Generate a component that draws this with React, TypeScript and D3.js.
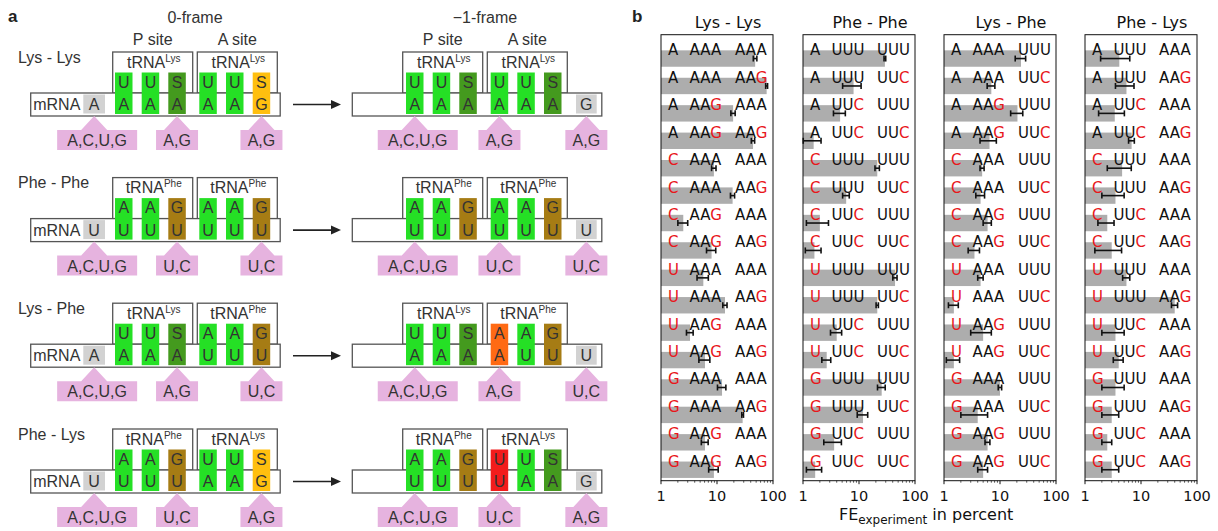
import React from 'react';
import * as d3 from 'd3';

// ---------------- Panel b data ----------------
const panelTitles = ['Lys - Lys', 'Phe - Phe', 'Lys - Phe', 'Phe - Lys'];
const firstNt = ['A', 'A', 'A', 'A', 'C', 'C', 'C', 'C', 'U', 'U', 'U', 'U', 'G', 'G', 'G', 'G'];
const refCodons = [['AAA', 'AAA'], ['UUU', 'UUU'], ['AAA', 'UUU'], ['UUU', 'AAA']];
const lysLysCodons = [
  ['AAA', 'AAA'], ['AAA', 'AAG'], ['AAG', 'AAA'], ['AAG', 'AAG'],
  ['AAA', 'AAA'], ['AAA', 'AAG'], ['AAG', 'AAA'], ['AAG', 'AAG'],
  ['AAA', 'AAA'], ['AAA', 'AAG'], ['AAG', 'AAA'], ['AAG', 'AAG'],
  ['AAA', 'AAA'], ['AAA', 'AAG'], ['AAG', 'AAA'], ['AAG', 'AAG'],
];
const phePheCodons = [
  ['UUU', 'UUU'], ['UUU', 'UUC'], ['UUC', 'UUU'], ['UUC', 'UUC'],
  ['UUU', 'UUU'], ['UUU', 'UUC'], ['UUC', 'UUU'], ['UUC', 'UUC'],
  ['UUU', 'UUU'], ['UUU', 'UUC'], ['UUC', 'UUU'], ['UUC', 'UUC'],
  ['UUU', 'UUU'], ['UUU', 'UUC'], ['UUC', 'UUU'], ['UUC', 'UUC'],
];
const lysPheCodons = [
  ['AAA', 'UUU'], ['AAA', 'UUC'], ['AAG', 'UUU'], ['AAG', 'UUC'],
  ['AAA', 'UUU'], ['AAA', 'UUC'], ['AAG', 'UUU'], ['AAG', 'UUC'],
  ['AAA', 'UUU'], ['AAA', 'UUC'], ['AAG', 'UUU'], ['AAG', 'UUC'],
  ['AAA', 'UUU'], ['AAA', 'UUC'], ['AAG', 'UUU'], ['AAG', 'UUC'],
];
const pheLysCodons = [
  ['UUU', 'AAA'], ['UUU', 'AAG'], ['UUC', 'AAA'], ['UUC', 'AAG'],
  ['UUU', 'AAA'], ['UUU', 'AAG'], ['UUC', 'AAA'], ['UUC', 'AAG'],
  ['UUU', 'AAA'], ['UUU', 'AAG'], ['UUC', 'AAA'], ['UUC', 'AAG'],
  ['UUU', 'AAA'], ['UUU', 'AAG'], ['UUC', 'AAA'], ['UUC', 'AAG'],
];
const lysLysFE = [48, 77, 19.4, 44, 8.8, 19, 2.5, 8, 5.7, 13.9, 3.3, 6.1, 12.3, 28.7, 6.1, 8.8];
const lysLysErr = [3.5, 3, 1.7, 3, 0.8, 1.6, 0.5, 1.5, 1.3, 1.2, 0.45, 1.35, 2.1, 1, 0.85, 1.7];
const phePheFE = [29, 8, 4.6, 1.55, 21.2, 5.9, 2.0, 1.6, 44, 21.2, 4.0, 2.65, 25.4, 11.8, 3.6, 1.65];
const phePheErr = [1, 2.9, 1.1, 0.55, 1.9, 0.8, 0.85, 0.5, 3.8, 1, 0.9, 0.48, 4, 2.5, 1.25, 0.5];
const lysPheFE = [23.7, 7, 20.5, 6.5, 4.8, 4.5, 6, 3.5, 4.5, 1.5, 5, 1.5, 10, 4, 6, 5];
const lysPheErr = [5, 1.1, 5, 2.1, 0.4, 0.8, 1, 0.8, 0.5, 0.3, 2, 0.4, 0.7, 2, 0.6, 1];
const pheLysFE = [4.1, 5.5, 3.4, 6.8, 4.6, 3.5, 2.5, 3, 5.5, 40, 3.5, 4, 3.5, 3, 2.5, 3];
const pheLysErr = [2.2, 2, 1.65, 0.8, 2.1, 1.5, 0.8, 1.5, 0.8, 5, 1.5, 0.8, 1.5, 1, 0.5, 1];
const xTicks = [1, 10, 100];

const panelCodons = [lysLysCodons, phePheCodons, lysPheCodons, pheLysCodons];
const panelFE = [lysLysFE, phePheFE, lysPheFE, pheLysFE];
const panelErr = [lysLysErr, phePheErr, lysPheErr, pheLysErr];

// ---------------- Panel a data ----------------
const pairNames = ['Lys - Lys', 'Phe - Phe', 'Lys - Phe', 'Phe - Lys'];
const pTRNA = ['Lys', 'Phe', 'Lys', 'Phe'];
const aTRNA = ['Lys', 'Phe', 'Phe', 'Lys'];
const anticodons = [['UUS', 'UUS'], ['AAG', 'AAG'], ['UUS', 'AAG'], ['AAG', 'UUS']];
const codons0 = [['AAA', 'AAG'], ['UUU', 'UUU'], ['AAA', 'UUU'], ['UUU', 'AAG']];
const codons1 = [['AAA', 'AAA'], ['UUU', 'UUU'], ['AAA', 'AUU'], ['UUU', 'UAA']];
const pairColors0 = [['ggd', 'ggy'], ['ggb', 'ggb'], ['ggd', 'ggb'], ['ggb', 'ggy']];
const pairColors1 = [['ggd', 'ggd'], ['ggb', 'ggb'], ['ggd', 'ogb'], ['ggb', 'rgd']];
const grayNt0 = ['A', 'U', 'A', 'U'];
const grayNt1 = ['G', 'U', 'U', 'G'];
const callouts = [
  ['A,C,U,G', 'A,G', 'A,G'],
  ['A,C,U,G', 'U,C', 'U,C'],
  ['A,C,U,G', 'A,G', 'U,C'],
  ['A,C,U,G', 'U,C', 'A,G'],
];

const colorMap: Record<string, string> = {
  g: '#25e025', d: '#449a1e', y: '#ffbf0f', b: '#a67c14', o: '#ff6a14', r: '#f21c1c',
};

const FRAMES = [
  { left: 30.7, pBox: 82, aBox: 166.6, pCells: [84.3, 111, 137.6], aCells: [168.6, 195.3, 222], gray: 52.6, grayW: 21.7, callAt: ['gray', 'p2', 'a2'] },
  { left: 352.3, pBox: 50.4, aBox: 135, pCells: [53.7, 80.4, 107], aCells: [138.4, 165, 191.7], gray: 223.7, grayW: 20.7, callAt: ['p0', 'a0', 'gray'] },
];
const ROW_OFF = [0, 125.6, 251.2, 377];
const CW = 17.5;
const FONT_A = "'Liberation Sans', Arial, sans-serif";
const FONT_B = "'DejaVu Sans', sans-serif";
const TXT = '#333';

function Callout({ apex, y0, label }: { apex: number; y0: number; label: string }) {
  const wide = label.length > 4;
  const x0 = wide ? apex - 37 : apex - 21;
  const x1 = wide ? apex + 43 : apex + 21;
  const top = y0 + 130, bot = y0 + 150, ay = y0 + 116;
  const d = `M${x0},${top} L${apex - 13},${top} L${apex},${ay} L${apex + 13},${top} L${x1},${top} L${x1},${bot} L${x0},${bot} Z`;
  return (
    <g>
      <path d={d} fill="#e6b3df" />
      <text x={(x0 + x1) / 2} y={y0 + 146} textAnchor="middle" fontSize={16} fontFamily={FONT_A} fill={TXT}>{label}</text>
    </g>
  );
}

function FrameDiagram({ row, frame }: { row: number; frame: number }) {
  const F = FRAMES[frame];
  const y0 = ROW_OFF[row];
  const L = F.left;
  const cods = frame === 0 ? codons0[row] : codons1[row];
  const cols = frame === 0 ? pairColors0[row] : pairColors1[row];
  const grayNt = frame === 0 ? grayNt0[row] : grayNt1[row];
  const boxes = [
    { x: L + F.pBox, name: pTRNA[row] },
    { x: L + F.aBox, name: aTRNA[row] },
  ];
  const cellSets = [F.pCells, F.aCells];
  const centers: Record<string, number> = {
    gray: L + F.gray + F.grayW / 2,
    p0: L + F.pCells[0] + CW / 2, p2: L + F.pCells[2] + CW / 2,
    a0: L + F.aCells[0] + CW / 2, a2: L + F.aCells[2] + CW / 2,
  };
  return (
    <g>
      {/* tRNA boxes */}
      {boxes.map((b, i) => (
        <g key={'b' + i}>
          <rect x={b.x} y={y0 + 52} width={80} height={41} fill="white" stroke="#555" strokeWidth={1.3} />
          <text x={b.x + 41} y={y0 + 67.5} textAnchor="middle" fontSize={16} fontFamily={FONT_A} fill={TXT}>
            tRNA<tspan fontSize={10} dy={-6}>{b.name}</tspan>
          </text>
          {row === 0 && (
            <text x={b.x + 40} y={y0 + 44.5} textAnchor="middle" fontSize={16} fontFamily={FONT_A} fill={TXT}>
              {i === 0 ? 'P site' : 'A site'}
            </text>
          )}
        </g>
      ))}
      {/* mRNA box */}
      <rect x={L} y={y0 + 93} width={249.5} height={23} fill="white" stroke="#555" strokeWidth={1.3} />
      {frame === 0 && (
        <text x={L + 2.5} y={y0 + 110} fontSize={16} fontFamily={FONT_A} fill={TXT}>mRNA</text>
      )}
      {/* gray nucleotide */}
      <rect x={L + F.gray} y={y0 + 94.5} width={F.grayW} height={19} fill="#d2d2d2" />
      <text x={L + F.gray + F.grayW / 2} y={y0 + 110} textAnchor="middle" fontSize={16} fontFamily={FONT_A} fill={TXT}>{grayNt}</text>
      {/* paired cells */}
      {cellSets.map((set, s) =>
        set.map((cx, k) => (
          <g key={`c${s}${k}`}>
            <rect x={L + cx} y={y0 + 72.5} width={CW} height={41.5} fill={colorMap[cols[s][k]]} />
            <text x={L + cx + CW / 2} y={y0 + 87.5} textAnchor="middle" fontSize={16} fontFamily={FONT_A} fill={TXT}>{anticodons[row][s][k]}</text>
            <text x={L + cx + CW / 2} y={y0 + 110} textAnchor="middle" fontSize={16} fontFamily={FONT_A} fill={TXT}>{cods[s][k]}</text>
          </g>
        ))
      )}
      {/* callouts */}
      {F.callAt.map((k, i) => (
        <Callout key={'co' + i} apex={centers[k]} y0={y0} label={callouts[row][i]} />
      ))}
    </g>
  );
}

function PanelA() {
  return (
    <g>
      <text x={8} y={22} fontSize={17} fontWeight="bold" fontFamily={FONT_A} fill="#222">a</text>
      <text x={195} y={23} textAnchor="middle" fontSize={16} fontFamily={FONT_A} fill={TXT}>0-frame</text>
      <text x={485} y={23} textAnchor="middle" fontSize={16} fontFamily={FONT_A} fill={TXT}>−1-frame</text>
      {pairNames.map((name, r) => (
        <g key={name}>
          <text x={18} y={ROW_OFF[r] + 62.5} fontSize={16} fontFamily={FONT_A} fill={TXT}>{name}</text>
          <FrameDiagram row={r} frame={0} />
          <FrameDiagram row={r} frame={1} />
          <line x1={293} x2={334} y1={ROW_OFF[r] + 104.5} y2={ROW_OFF[r] + 104.5} stroke="#222" strokeWidth={1.6} />
          <path d={`M341,${ROW_OFF[r] + 104.5} L331,${ROW_OFF[r] + 100} L331,${ROW_OFF[r] + 109} Z`} fill="#222" />
        </g>
      ))}
    </g>
  );
}

// ---------------- Panel b ----------------
const PANEL_LEFT = [661, 803, 944, 1085];
const PANEL_W = 112;
const TOP = 34.7, BOTTOM = 480.7;

function PanelB() {
  const x = d3.scaleLog().domain([1, 100]).range([0, PANEL_W]);
  const y = d3.scaleLinear().domain([-0.87, 15.4]).range([TOP, BOTTOM]);
  const minor: number[] = [];
  [1, 10].forEach((dec) => { for (let m = 2; m <= 9; m++) minor.push(dec * m); });
  return (
    <g fontFamily={FONT_B}>
      <text x={632} y={22} fontSize={17} fontWeight="bold" fontFamily={FONT_A} fill="#222">b</text>
      {panelTitles.map((title, p) => {
        const left = PANEL_LEFT[p];
        const fe = panelFE[p], err = panelErr[p], cods = panelCodons[p], ref = refCodons[p];
        return (
          <g key={title} transform={`translate(${left},0)`}>
            <text x={PANEL_W / 2 + 11} y={28} textAnchor="middle" fontSize={16} fill="#111">{title}</text>
            {fe.map((v, i) => (
              <rect key={'bar' + i} x={0} y={y(i) - 8.2} width={x(v)} height={16.4} fill="#adadad" />
            ))}
            {fe.map((_, i) => {
              const base = y(i) - 3.1;
              const groups = [firstNt[i], cods[i][0], cods[i][1]];
              const refs = ['A', ref[0], ref[1]];
              const xs = [7, 28.5, 74];
              return (
                <g key={'t' + i}>
                  {groups.map((g, gi) => (
                    <text key={gi} x={xs[gi]} y={base} fontSize={15}>
                      {g.split('').map((ch, ci) => (
                        <tspan key={ci} fill={ch !== refs[gi][ci] ? '#e8161b' : '#111'}>{ch}</tspan>
                      ))}
                    </text>
                  ))}
                </g>
              );
            })}
            {fe.map((v, i) => {
              const lo = x(Math.max(1.01, v - err[i]));
              const hi = x(v + err[i]);
              const yy = y(i);
              return (
                <g key={'e' + i} stroke="#111" strokeWidth={1.6}>
                  <line x1={lo} x2={hi} y1={yy} y2={yy} />
                  <line x1={lo} x2={lo} y1={yy - 3} y2={yy + 3} />
                  <line x1={hi} x2={hi} y1={yy - 3} y2={yy + 3} />
                </g>
              );
            })}
            <rect x={0} y={TOP} width={PANEL_W} height={BOTTOM - TOP} fill="none" stroke="#111" strokeWidth={1} />
            {xTicks.map((t) => (
              <g key={'tk' + t}>
                <line x1={x(t)} x2={x(t)} y1={BOTTOM} y2={BOTTOM + 3.5} stroke="#111" strokeWidth={1} />
                <text x={x(t)} y={BOTTOM + 20} textAnchor="middle" fontSize={14.5} fill="#111">{t}</text>
              </g>
            ))}
            {minor.map((t) => (
              <line key={'mn' + t} x1={x(t)} x2={x(t)} y1={BOTTOM} y2={BOTTOM + 2} stroke="#111" strokeWidth={0.7} />
            ))}
          </g>
        );
      })}
      <text x={839} y={520} fontSize={16} fill="#111">
        FE<tspan fontSize={12} dy={4}>experiment</tspan><tspan dy={-4}> in percent</tspan>
      </text>
    </g>
  );
}

export default function App() {
  return (
    <svg width={1218} height={531} style={{ position: 'absolute', left: 0, top: 0, background: 'white' }}>
      <rect x={0} y={0} width={1218} height={531} fill="white" />
      <PanelA />
      <PanelB />
    </svg>
  );
}
